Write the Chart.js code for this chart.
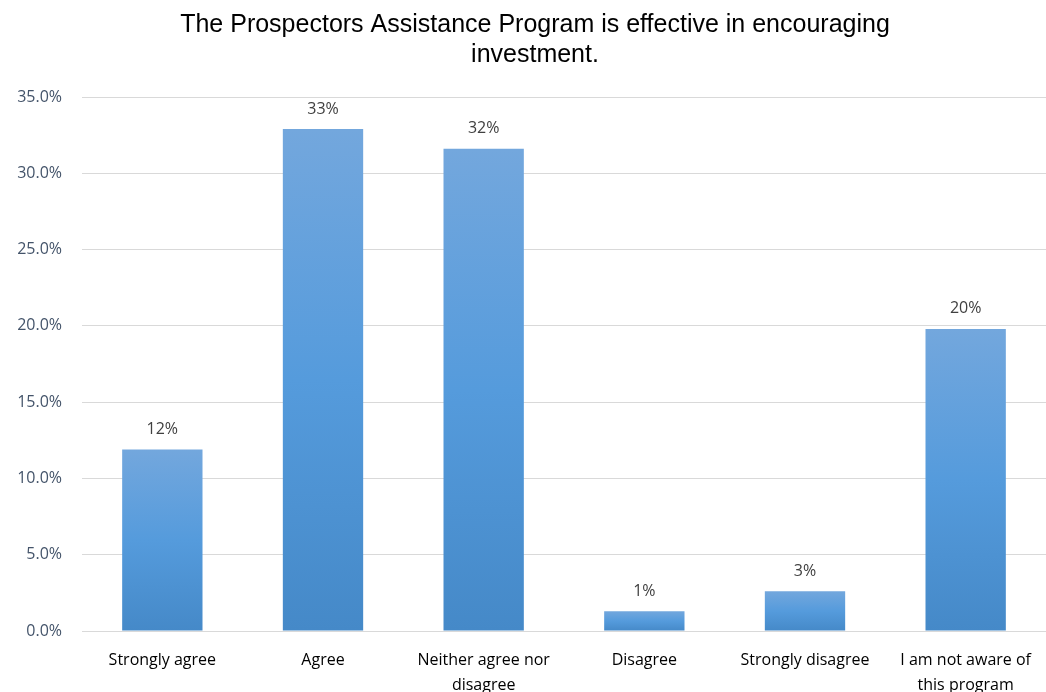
<!DOCTYPE html>
<html>
<head>
<meta charset="utf-8">
<script src="https://cdn.jsdelivr.net/npm/chart.js@4.4.1/dist/chart.umd.min.js"></script>
<style>
  html, body { margin: 0; padding: 0; background: #fff; overflow: hidden; }
  #wrap { width: 1046px; height: 692px; }
</style>
</head>
<body>
<div id="wrap"><canvas id="chart" width="1046" height="692"></canvas></div>
<script>
// Survey answers and share of respondents (%)
const categories = [
  'Strongly agree',
  'Agree',
  ['Neither agree nor', 'disagree'],
  'Disagree',
  'Strongly disagree',
  ['I am not aware of', 'this program']
]
const shares = [11.9, 32.9, 31.6, 1.3, 2.6, 19.8]
const yTicks = [0, 5, 10, 15, 20, 25, 30, 35]

const titleLines = [
  'The Prospectors Assistance Program is effective in encouraging',
  'investment.'
]

const labelFont = '"Open Sans", "Lato", sans-serif'

// Vertical gradient inside each bar, lighter on top
function barFill(context) {
  const chart = context.chart
  const { ctx, chartArea, scales } = chart
  if (!chartArea || context.dataIndex === undefined) return '#559bdb'
  const top = scales.y.getPixelForValue(context.raw)
  const base = scales.y.getPixelForValue(0)
  if (!isFinite(top) || !isFinite(base) || base - top < 1) return '#559bdb'
  const g = ctx.createLinearGradient(0, top, 0, base)
  g.addColorStop(0, '#73a7dd')
  g.addColorStop(0.5, '#559bdc')
  g.addColorStop(1, '#4589c8')
  return g
}

// Percent labels above bars
const valueLabels = {
  id: 'valueLabels',
  afterDatasetsDraw(chart) {
    const { ctx } = chart
    const meta = chart.getDatasetMeta(0)
    ctx.save()
    ctx.font = '16px ' + labelFont
    ctx.fillStyle = '#404040'
    ctx.textAlign = 'center'
    ctx.textBaseline = 'middle'
    meta.data.forEach((bar, i) => {
      ctx.fillText(Math.round(shares[i]) + '%', bar.x, bar.y - 20)
    })
    ctx.restore()
  }
}

// Two-line title, centred over the plot area rather than the canvas
const plotTitle = {
  id: 'plotTitle',
  afterDraw(chart) {
    const { ctx, chartArea } = chart
    const cx = (chartArea.left + chartArea.right) / 2 - 29
    ctx.save()
    ctx.font = '25px "Liberation Sans", Arial, sans-serif'
    ctx.fillStyle = '#000'
    ctx.textAlign = 'center'
    ctx.textBaseline = 'middle'
    titleLines.forEach((line, i) => ctx.fillText(line, cx, 25 + i * 30))
    ctx.restore()
  }
}

new Chart(document.getElementById('chart'), {
  type: 'bar',
  data: {
    labels: categories,
    datasets: [{
      data: shares,
      backgroundColor: barFill,
      barPercentage: 0.5,
      categoryPercentage: 1.0
    }]
  },
  options: {
    responsive: false,
    animation: false,
    layout: { padding: { left: 0, right: 0, top: 97, bottom: 0 } },
    plugins: {
      legend: { display: false },
      tooltip: { enabled: false },
      title: { display: false }
    },
    scales: {
      x: {
        grid: { display: false },
        border: { display: false },
        ticks: {
          color: '#000',
          font: { family: labelFont, size: 16, lineHeight: '25px' },
          padding: 9,
          maxRotation: 0,
          autoSkip: false
        },
        afterFit(scale) { scale.height = 61 }
      },
      y: {
        min: 0,
        max: 35,
        afterBuildTicks(scale) { scale.ticks = yTicks.map(v => ({ value: v })) },
        grid: { color: '#d9d9d9', lineWidth: 1, drawTicks: false },
        border: { display: false },
        ticks: {
          color: '#44546a',
          font: { family: labelFont, size: 16 },
          padding: 20,
          callback: v => v.toFixed(1) + '%'
        },
        afterFit(scale) { scale.width = 82 }
      }
    }
  },
  plugins: [valueLabels, plotTitle]
})
</script>
</body>
</html>
